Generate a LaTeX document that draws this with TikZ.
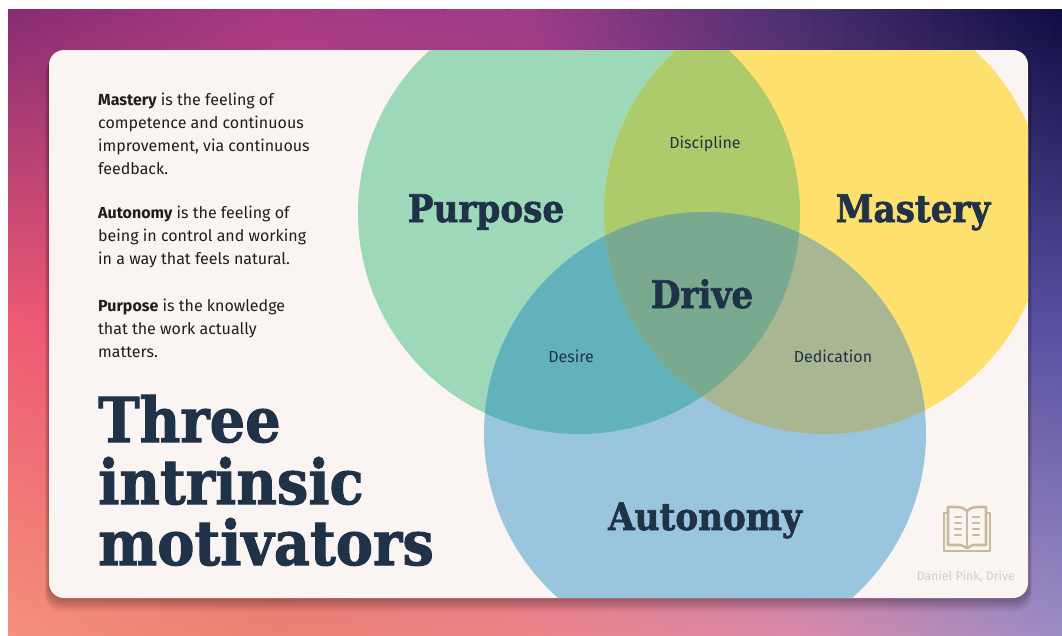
\documentclass[tikz,border=0pt]{standalone}
\usepackage{fontspec}
\setmainfont{Fira Sans}
\newfontfamily\headfont{DejaVu Serif}[FakeStretch=0.9, BoldFeatures={FakeBold=1.6}]
\usetikzlibrary{positioning}

\definecolor{cardbg}{HTML}{FAF5F2}
\definecolor{navy}{HTML}{1F3248}
\definecolor{paratext}{HTML}{1E1E1E}
\definecolor{purposecol}{HTML}{9DD8B9}
\definecolor{masterycol}{HTML}{FDE06E}
\definecolor{autonomycol}{HTML}{9AC5DF}
\definecolor{pmcol}{HTML}{AECB6B}
\definecolor{pacol}{HTML}{62B2BB}
\definecolor{macol}{HTML}{A8B791}
\definecolor{drivecol}{HTML}{79A98F}
\definecolor{iconcol}{HTML}{C9BB9A}
\definecolor{citecol}{HTML}{D6CCC2}

% background: top, middle and bottom colours at five columns
\definecolor{tA}{HTML}{862C73}\definecolor{mA}{HTML}{EE5A72}\definecolor{bA}{HTML}{F5917A}
\definecolor{tB}{HTML}{A63A84}\definecolor{mB}{HTML}{E0507A}\definecolor{bB}{HTML}{EA8272}
\definecolor{tC}{HTML}{9C3C88}\definecolor{mC}{HTML}{B84A86}\definecolor{bC}{HTML}{EC8488}
\definecolor{tD}{HTML}{4A2E6E}\definecolor{mD}{HTML}{6E4898}\definecolor{bD}{HTML}{DA8AAA}
\definecolor{tE}{HTML}{0E0C42}\definecolor{mE}{HTML}{5650A0}\definecolor{bE}{HTML}{9A8DC6}

\begin{document}
\begin{tikzpicture}[
        x=1pt, y=-1pt,
        circ/.style={radius=221pt},
        big/.style={font=\headfont\bfseries\fontsize{38}{38}\selectfont, text=navy, inner sep=0pt, anchor=base},
        title/.style={font=\headfont\bfseries\fontsize{62}{62}\selectfont, text=navy, inner sep=0pt, anchor=base west},
        para/.style={font=\fontsize{16}{23}\selectfont, text=paratext, align=left, inner sep=0pt, anchor=base west},
        small/.style={font=\fontsize{16}{18}\selectfont, text=navy, inner sep=0pt, anchor=base},
        cite/.style={font=\fontsize{12.3}{14}\selectfont, text=citecol, inner sep=0pt, anchor=base east},
        icon/.style={draw=iconcol, line width=2.6pt, line join=round, line cap=round}
    ]
    \useasboundingbox (0,0) rectangle (1062,635);
    \fill[white] (0,0) rectangle (1062,635);

    % background
    \foreach \xa/\xb/\ta/\tb/\ma/\mb/\ba/\bb in {8/270/tA/tB/mA/mB/bA/bB, 270/530/tB/tC/mB/mC/bB/bC,
            530/800/tC/tD/mC/mD/bC/bD, 800/1062/tD/tE/mD/mE/bD/bE}
        \foreach \k in {0,...,23} {
            \pgfmathtruncatemacro\p{100*(\k+0.5)/24}
            \pgfmathsetmacro\xl{\xa+(\xb-\xa)*\k/24}
            \pgfmathsetmacro\xr{\xa+(\xb-\xa)*(\k+1)/24+0.8}
            \fill[top color=\tb!\p!\ta, bottom color=\bb!\p!\ba, middle color=\mb!\p!\ma]
                (\xl,9) rectangle (\xr,635);
        }

    % shadow
    \foreach \i in {1,...,10}
        \fill[black, opacity=0.03, rounded corners=16pt]
            (49-0.4*\i, 50+0.9*\i) rectangle (1028+0.4*\i, 598+1.3*\i);

    % card
    \fill[cardbg, rounded corners=15pt] (49,50) rectangle (1028,598);

    \coordinate (cP) at (579,213);
    \coordinate (cM) at (825,213);
    \coordinate (cA) at (705,433);

    \begin{scope}
        \clip[rounded corners=15pt] (49,50) rectangle (1028,598);
        \fill[purposecol] (cP) circle[circ];
        \fill[masterycol] (cM) circle[circ];
        \fill[autonomycol] (cA) circle[circ];
        % overlaps
        \begin{scope}
            \clip (cP) circle[circ];
            \fill[pmcol] (cM) circle[circ];
            \fill[pacol] (cA) circle[circ];
        \end{scope}
        \begin{scope}
            \clip (cM) circle[circ];
            \fill[macol] (cA) circle[circ];
            \clip (cA) circle[circ];
            \fill[drivecol] (cP) circle[circ];
        \end{scope}
    \end{scope}

    % circle labels
    \node[big] (purpose) at (486,222) {Purpose};
    \node[big] (mastery) at (913,222) {Mastery};
    \node[big] (drive) at (702,308) {Drive};
    \node[big] (autonomy) at (705,530) {Autonomy};
    \node[small] (discipline) at (705,148) {Discipline};
    \node[small] (desire) at (571,362) {Desire};
    \node[small] (dedication) at (833,362) {Dedication};

    % left texts
    \node[para] (mtext) at (98,174) {\textbf{Mastery} is the feeling of\\competence and continuous\\improvement, via continuous\\feedback.};
    \node[para] (atext) at (98,264) {\textbf{Autonomy} is the feeling of\\being in control and working\\in a way that feels natural.};
    \node[para] (ptext) at (98,357) {\textbf{Purpose} is the knowledge\\that the work actually\\matters.};

    \node[title] (three) at (98,442) {Three};
    \node[title] (intrinsic) at (98,504) {intrinsic};
    \node[title] (motivators) at (98,565) {motivators};

    % book
    \draw[icon] (948,513) -- (944,513) -- (944,551) -- (990,551) -- (990,513) -- (986,513);
    \draw[icon] (967,511) .. controls (962,507) .. (948,507) -- (948,545) -- (961,545) -- (967,548);
    \draw[icon] (967,511) .. controls (972,507) .. (986,507) -- (986,545) -- (973,545) -- (967,548);
    \draw[icon] (967,511) -- (967,548);
    \foreach \y in {517,523,529,535} {
        \draw[icon, line width=2.4pt] (955,\y) -- (961,\y);
        \draw[icon, line width=2.4pt] (973,\y) -- (979,\y);
    }
    \node[cite] (cite) at (1015,580) {Daniel Pink, Drive};
\end{tikzpicture}
\end{document}
